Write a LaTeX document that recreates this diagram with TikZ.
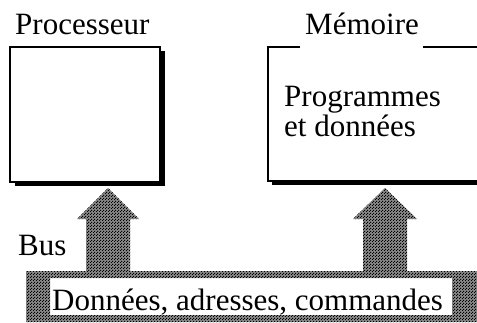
\documentclass[tikz,border=0pt]{standalone}
\usepackage{fontspec}
\setmainfont{Liberation Serif}
\usetikzlibrary{shadows,patterns}
% fine dot grid used for the bus band
\pgfdeclarepatternformonly{busdots}{\pgfpointorigin}{\pgfqpoint{3pt}{3pt}}{\pgfqpoint{3pt}{3pt}}{%
  \pgfpathrectangle{\pgfqpoint{0pt}{0pt}}{\pgfqpoint{1.3pt}{1.3pt}}%
  \pgfpathrectangle{\pgfqpoint{1.5pt}{1.5pt}}{\pgfqpoint{1.3pt}{1.3pt}}%
  \pgfusepath{fill}}
\begin{document}
\begin{tikzpicture}[x=1pt,y=1pt,
  lbl/.style={inner sep=0pt, anchor=base west, font=\fontsize{31}{30}\selectfont},
  unit/.style={draw, line width=1.5pt, fill=white, inner sep=0pt,
    drop shadow={shadow xshift=5pt, shadow yshift=-4pt, fill=black, opacity=1}},
  band/.style={fill=black!48, even odd rule}]
\useasboundingbox (0,0) rectangle (477,322);
\clip (0,0) rectangle (477,322);

% processor unit
\node[unit, minimum width=150pt, minimum height=135pt] (cpu) at (85,207.5) {};
\node[lbl] (cpuname) at (15,287) {Processeur};

% memory unit, running off the right edge
\coordinate (memtl) at (268,275);
\coordinate (membl) at (268,141);
\fill[black] (272,137) rectangle (490,141.5);
\draw[line width=1.5pt] (300,275) -- (memtl) -- (membl) -- (490,141);
\draw[line width=1.5pt] (423,275) -- (490,275);
\node[lbl] (memname) at (305,287) {Mémoire};
\node[lbl, align=left, anchor=north west] (memtext) at (284,236)
  {Programmes\\et données};

% bus band with its two arrows
\coordinate (cputip) at (108,134);
\coordinate (memtip) at (385,134);
\def\busoutline{
  (26,0) -- (26,51) -- (86,51) -- (86,103) -- (77,103) -- (cputip)
  -- (139,103) -- (130,103) -- (130,51) -- (363,51) -- (363,103)
  -- (353,103) -- (memtip) -- (417,103) -- (407,103) -- (407,51)
  -- (477,51) -- (477,0) -- cycle
  (50,7) rectangle (452,44)}
\path[band] \busoutline;
\path[pattern=busdots, even odd rule] \busoutline;

\node[lbl] (busname) at (18,67) {Bus};
\node[lbl] (buslines) at (52,12) {Données, adresses, commandes};
\end{tikzpicture}
\end{document}
